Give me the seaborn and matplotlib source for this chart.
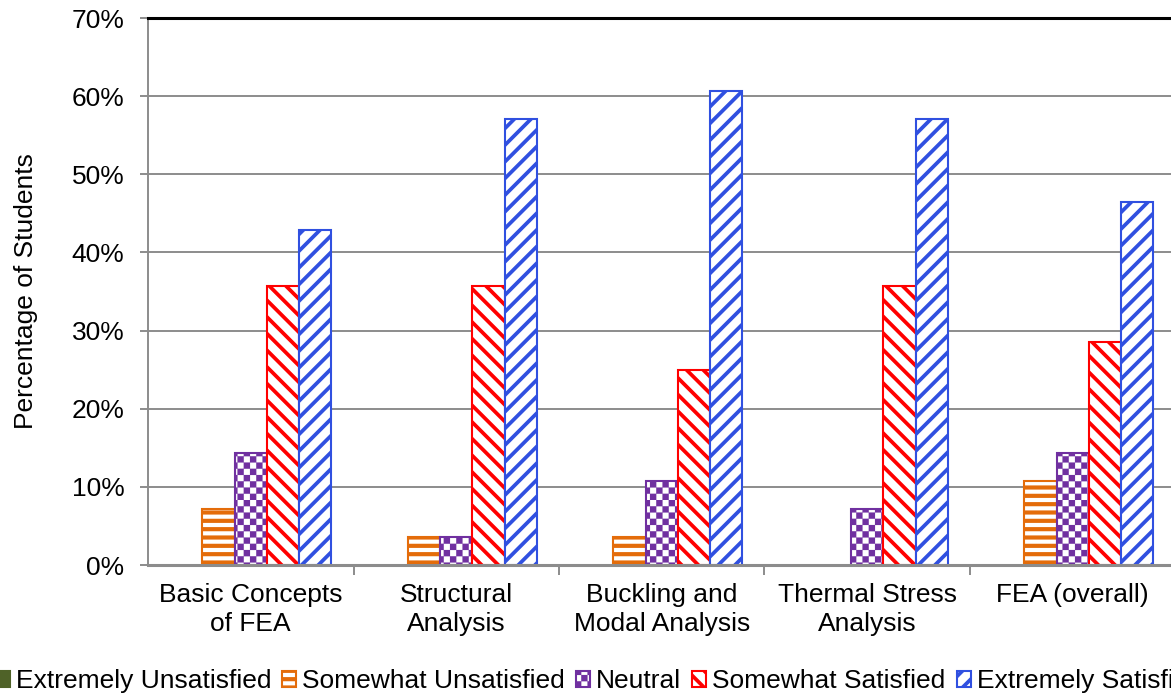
import matplotlib
matplotlib.use("Agg")
import matplotlib.pyplot as plt
import matplotlib.hatch as mhatch
from matplotlib.path import Path
from matplotlib.patches import Patch
from matplotlib.ticker import FixedLocator, FuncFormatter
import seaborn as sns
import pandas as pd

# Survey results: percentage of students per satisfaction level and topic
topics = ["Basic Concepts\nof FEA", "Structural\nAnalysis", "Buckling and\nModal Analysis",
          "Thermal Stress\nAnalysis", "FEA (overall)"]
ratings = ["Extremely Unsatisfied", "Somewhat Unsatisfied", "Neutral",
           "Somewhat Satisfied", "Extremely Satisfied"]
extremely_unsatisfied = [0.0, 0.0, 0.0, 0.0, 0.0]
somewhat_unsatisfied = [7.14, 3.57, 3.57, 0.0, 10.71]
neutral = [14.29, 3.57, 10.71, 7.14, 14.29]
somewhat_satisfied = [35.71, 35.71, 25.0, 35.71, 28.57]
extremely_satisfied = [42.86, 57.14, 60.71, 57.14, 46.43]
y_ticks = [0, 10, 20, 30, 40, 50, 60, 70]

series = [extremely_unsatisfied, somewhat_unsatisfied, neutral,
          somewhat_satisfied, extremely_satisfied]
df = pd.DataFrame({
    "topic": [t for _ in ratings for t in topics],
    "rating": [r for r in ratings for _ in topics],
    "pct": [v for s in series for v in s],
})


class CheckerHatch(mhatch.HatchPatternBase):
    """Small checkerboard of filled squares, selected with the '*' character."""

    def __init__(self, hatch, density):
        self.n = hatch.count("*") * 8
        self.num_vertices = ((self.n * self.n + 1) // 2) * 5

    def set_vertices_and_codes(self, vertices, codes):
        step = 1.0 / self.n
        k = 0
        for i in range(self.n):
            for j in range(self.n):
                if (i + j) % 2:
                    continue
                x0, y0 = j * step, i * step
                vertices[k:k + 5] = [(x0, y0), (x0 + step, y0), (x0 + step, y0 + step),
                                     (x0, y0 + step), (x0, y0)]
                codes[k:k + 5] = [Path.MOVETO, Path.LINETO, Path.LINETO,
                                  Path.LINETO, Path.CLOSEPOLY]
                k += 5


mhatch._hatch_types = [h for h in mhatch._hatch_types if h.__name__ != "Stars"] + [CheckerHatch]

# Styling for each satisfaction level: (edge/hatch colour, hatch, fill, hatch width)
styles = {
    "Extremely Unsatisfied": ("#4F6228", None, "#4F6228", 1.0),
    "Somewhat Unsatisfied": ("#E46C0A", "--", "white", 3.0),
    "Neutral": ("#7030A0", "**", "white", 0.1),
    "Somewhat Satisfied": ("#FF0000", "\\\\", "white", 2.7),
    "Extremely Satisfied": ("#3050E0", "//", "white", 2.7),
}

sns.set_theme(style="white")
plt.rcParams["font.family"] = ["Liberation Sans", "DejaVu Sans"]
plt.rcParams["text.color"] = "black"
plt.rcParams["axes.labelcolor"] = "black"
plt.rcParams["hatch.linewidth"] = 3.0

FS = 19

fig = plt.figure(figsize=(11.71, 6.96), dpi=100)
ax = fig.add_axes([0.1264, 0.1882, 0.8774, 0.7859])

sns.barplot(data=df, x="topic", y="pct", hue="rating", order=topics,
            hue_order=ratings, width=0.785, gap=0, legend=False,
            palette=["white"] * 5, ax=ax, zorder=3)


def style_patch(p, rating):
    ec, hatch, fc, hlw = styles[rating]
    p.set_facecolor(fc)
    p.set_edgecolor(ec)
    p.set_hatch(hatch)
    if hasattr(p, "set_hatch_linewidth"):
        p.set_hatch_linewidth(hlw)


for container, rating in zip(ax.containers, ratings):
    for bar in container:
        style_patch(bar, rating)
        bar.set_linewidth(1.5 if bar.get_height() > 0 else 0)

ax.set_ylim(0, 70)
ax.set_xlim(-0.5, len(topics) - 0.5)
ax.yaxis.set_major_locator(FixedLocator(y_ticks))
ax.yaxis.set_major_formatter(FuncFormatter(lambda v, _: f"{v:.0f}%"))
ax.yaxis.grid(True, color="#8C8C8C", linewidth=1.4, zorder=0)
ax.set_axisbelow(True)

ax.set_xticks(range(len(topics)))
ax.set_xticklabels(topics, fontsize=FS, linespacing=1.25)
ax.set_xticks([i + 0.5 for i in range(len(topics) - 1)], minor=True)
ax.tick_params(axis="x", which="major", length=0, pad=13, labelcolor="black")
ax.tick_params(axis="x", which="minor", length=7, width=1.4, color="#8C8C8C", bottom=True)
ax.tick_params(axis="y", length=6, width=1.4, color="#8C8C8C", labelsize=FS, pad=11,
               left=True, labelcolor="black")

ax.set_xlabel("")
ax.set_ylabel("Percentage of Students", fontsize=FS, labelpad=24)

for side in ("left", "bottom"):
    ax.spines[side].set_color("#8C8C8C")
ax.spines["left"].set_linewidth(1.4)
ax.spines["bottom"].set_linewidth(2.2)
ax.spines["bottom"].set_zorder(5)
ax.spines["right"].set_visible(False)
ax.spines["top"].set_color("black")
ax.spines["top"].set_linewidth(2.2)

handles = []
for rating in ratings:
    h = Patch(linewidth=1.5, label=rating)
    style_patch(h, rating)
    handles.append(h)
leg = fig.legend(handles=handles, loc="center left", bbox_to_anchor=(-0.0038, 0.021), ncol=5,
                 frameon=False, fontsize=FS, handlelength=0.53, handleheight=0.53,
                 handletextpad=0.23, columnspacing=0.42, borderaxespad=0, borderpad=0)
for p, rating in zip(leg.get_patches(), ratings):
    style_patch(p, rating)

fig.savefig("out.png", dpi=100)
